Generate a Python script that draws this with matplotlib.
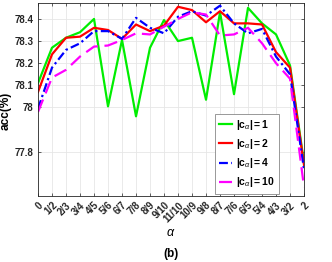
import matplotlib.pyplot as plt
import numpy as np

plt.rcParams["font.family"] = ["Liberation Sans", "DejaVu Sans"]
plt.rcParams["mathtext.fontset"] = "custom"
plt.rcParams["mathtext.rm"] = "Liberation Sans"
plt.rcParams["mathtext.bf"] = "Liberation Sans:bold"
plt.rcParams["mathtext.it"] = "Liberation Sans:italic"

alpha_labels = ["0", "1/2", "2/3", "3/4", "4/5", "5/6", "6/7", "7/8", "8/9", "9/10",
                "11/10", "10/9", "9/8", "8/7", "7/6", "6/5", "5/4", "4/3", "3/2", "2"]

acc_c1 = [78.11, 78.27, 78.315, 78.34, 78.40, 78.005, 78.305, 77.96, 78.27, 78.395,
          78.30, 78.315, 78.035, 78.43, 78.06, 78.45, 78.38, 78.33, 78.19, 77.75]
acc_c2 = [78.07, 78.24, 78.315, 78.32, 78.36, 78.35, 78.31, 78.375, 78.345, 78.37,
          78.455, 78.44, 78.385, 78.435, 78.38, 78.38, 78.375, 78.25, 78.18, 77.74]
acc_c4 = [77.995, 78.18, 78.26, 78.29, 78.345, 78.345, 78.31, 78.405, 78.36, 78.335,
          78.41, 78.435, 78.415, 78.46, 78.38, 78.335, 78.355, 78.23, 78.15, 77.72]
acc_c10 = [77.98, 78.135, 78.17, 78.23, 78.275, 78.28, 78.305, 78.335, 78.33, 78.365,
           78.40, 78.43, 78.42, 78.325, 78.33, 78.36, 78.29, 78.20, 78.13, 77.64]

x = np.arange(len(alpha_labels))

fig = plt.figure(figsize=(3.32, 2.62), dpi=100)
ax = fig.add_axes([0.1145, 0.252, 0.8012, 0.7365])

ax.plot(x, acc_c1, color="#00ee00", lw=1.6, label=r"$\mathbf{|c}_{\alpha}\mathbf{|=1}$")
ax.plot(x, acc_c2, color="red", lw=1.6, label=r"$\mathbf{|c}_{\alpha}\mathbf{|=2}$")
ax.plot(x, acc_c4, color="blue", lw=1.6, ls=(0, (4, 1.5, 1, 1.5)),
        label=r"$\mathbf{|c}_{\alpha}\mathbf{|=4}$")
ax.plot(x, acc_c10, color="magenta", lw=1.6, ls=(0, (6, 3)),
        label=r"$\mathbf{|c}_{\alpha}\mathbf{|=10}$")

ax.set_xlim(0, 19)
ax.set_ylim(77.6, 78.472)
ax.set_yticks([77.8, 78.0, 78.1, 78.2, 78.3, 78.4])
ax.set_yticklabels(["77.8", "78", "78.1", "78.2", "78.3", "78.4"], fontsize=7, fontweight="bold")
ax.set_xticks(x)
ax.set_xticklabels(alpha_labels, rotation=45, ha="right", rotation_mode="anchor",
                   fontsize=7, fontweight="bold")
ax.tick_params(direction="in", top=True, right=True, length=2.5, width=0.5,
               colors="#262626", pad=3)
for s in ax.spines.values():
    s.set_color("#262626")
    s.set_linewidth(0.6)
ax.grid(True, color="#e6e6e6", lw=0.6)
ax.set_axisbelow(True)

ax.set_ylabel("acc(%)", fontsize=8.5, fontweight="bold")
ax.yaxis.set_label_coords(-0.1, 0.44)
ax.set_xlabel(r"$\alpha$", fontsize=9, labelpad=2)
fig.text(0.515, 0.02, "(b)", fontsize=8.5, fontweight="bold", ha="center")

leg = ax.legend(loc="lower right", bbox_to_anchor=(0.925, -0.015), fontsize=7.5,
                handlelength=1.2, handletextpad=0.4, labelspacing=0.5,
                borderpad=0.4, fancybox=False, framealpha=1, edgecolor="#888888")
leg.get_frame().set_linewidth(0.6)

fig.savefig("out.png", dpi=100)
